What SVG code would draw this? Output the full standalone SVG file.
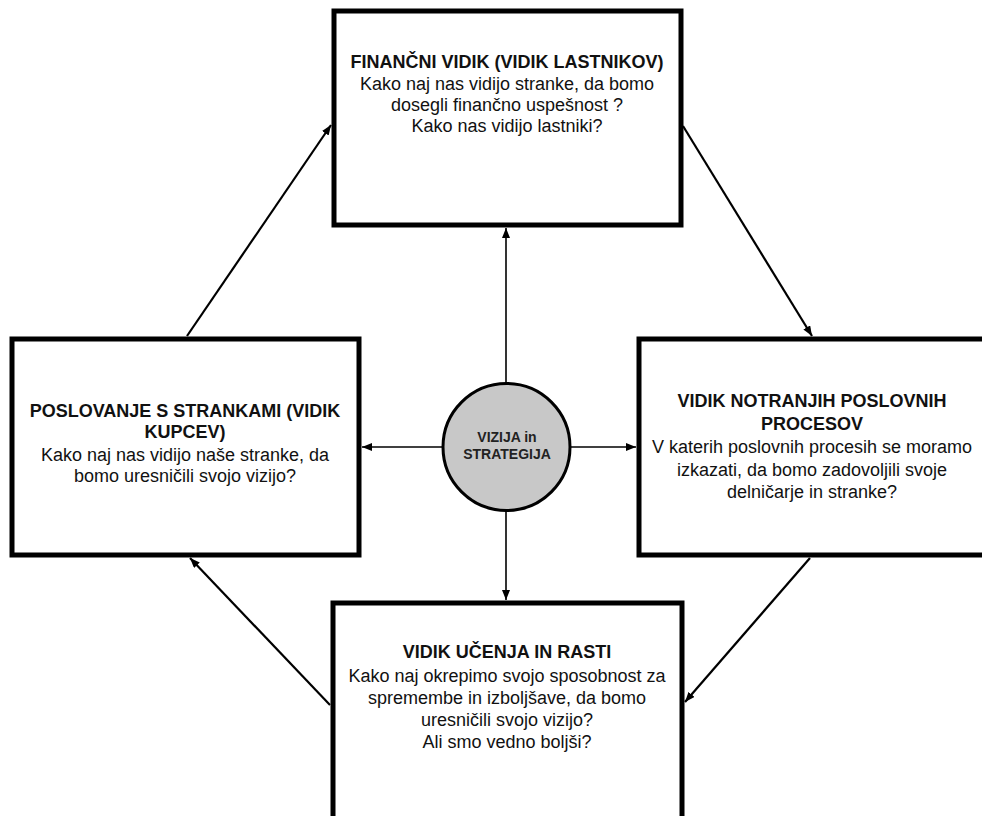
<svg xmlns="http://www.w3.org/2000/svg" width="982" height="816" viewBox="0 0 982 816">
  <style>
    .box { fill: #ffffff; stroke: #000000; stroke-width: 5; }
    .hub { fill: #c8c8c8; stroke: #000000; stroke-width: 3; }
    .t { font-family: "Liberation Sans", Arial, sans-serif; font-size: 18px; fill: #111111; text-anchor: middle; }
    .b { font-weight: bold; }
    .hubt { font-family: "Liberation Sans", Arial, sans-serif; font-size: 14px; font-weight: bold; fill: #222222; text-anchor: middle; }
    .link { fill: none; stroke: #000000; stroke-width: 1.6; }
    .diag { fill: none; stroke: #000000; stroke-width: 2.2; }
  </style>
  <defs>
    <marker id="arrow" viewBox="0 0 10 8" refX="10" refY="4" markerWidth="10" markerHeight="8" markerUnits="userSpaceOnUse" orient="auto">
      <path d="M0,0 L10,4 L0,8 Z" fill="#000000"/>
    </marker>
  </defs>

  <rect width="982" height="816" fill="#ffffff"/>

  <!-- connectors -->
  <g id="connectors">
    <line class="link" x1="506" y1="383" x2="506" y2="228" marker-end="url(#arrow)"/>
    <line class="link" x1="506" y1="511" x2="506" y2="600" marker-end="url(#arrow)"/>
    <line class="link" x1="443" y1="447" x2="362" y2="447" marker-end="url(#arrow)"/>
    <line class="link" x1="570" y1="447" x2="636" y2="447" marker-end="url(#arrow)"/>
    <line class="diag" x1="187" y1="336" x2="331" y2="125" marker-end="url(#arrow)"/>
    <line class="diag" x1="683" y1="126" x2="812" y2="336" marker-end="url(#arrow)"/>
    <line class="diag" x1="810" y1="558" x2="685" y2="702" marker-end="url(#arrow)"/>
    <line class="diag" x1="330" y1="705" x2="190" y2="558" marker-end="url(#arrow)"/>
  </g>

  <!-- financial perspective -->
  <g id="financni">
    <rect class="box" x="334" y="11" width="347" height="214"/>
    <text class="t b" x="507" y="68">FINANČNI VIDIK (VIDIK LASTNIKOV)</text>
    <text class="t" x="507" y="90">Kako naj nas vidijo stranke, da bomo</text>
    <text class="t" x="507" y="111">dosegli finančno uspešnost ?</text>
    <text class="t" x="507" y="132">Kako nas vidijo lastniki?</text>
  </g>

  <!-- customer perspective -->
  <g id="kupci">
    <rect class="box" x="12" y="339" width="347" height="216"/>
    <text class="t b" x="185" y="417">POSLOVANJE S STRANKAMI (VIDIK</text>
    <text class="t b" x="185" y="438">KUPCEV)</text>
    <text class="t" x="185" y="461">Kako naj nas vidijo naše stranke, da</text>
    <text class="t" x="185" y="482">bomo uresničili svojo vizijo?</text>
  </g>

  <!-- internal processes perspective -->
  <g id="procesi">
    <rect class="box" x="639" y="339" width="347" height="216"/>
    <text class="t b" x="812" y="407">VIDIK NOTRANJIH POSLOVNIH</text>
    <text class="t b" x="812" y="430">PROCESOV</text>
    <text class="t" x="812" y="453">V katerih poslovnih procesih se moramo</text>
    <text class="t" x="812" y="476">izkazati, da bomo zadovoljili svoje</text>
    <text class="t" x="812" y="498">delničarje in stranke?</text>
  </g>

  <!-- learning and growth perspective -->
  <g id="ucenje">
    <rect class="box" x="333" y="603" width="349" height="240"/>
    <text class="t b" x="507" y="658">VIDIK UČENJA IN RASTI</text>
    <text class="t" x="507" y="682">Kako naj okrepimo svojo sposobnost za</text>
    <text class="t" x="507" y="704">spremembe in izboljšave, da bomo</text>
    <text class="t" x="507" y="726">uresničili svojo vizijo?</text>
    <text class="t" x="507" y="748">Ali smo vedno boljši?</text>
  </g>

  <!-- vision and strategy hub -->
  <g id="vizija">
    <circle class="hub" cx="506.5" cy="447" r="63.5"/>
    <text class="hubt" x="507" y="442">VIZIJA in</text>
    <text class="hubt" x="507" y="459">STRATEGIJA</text>
  </g>
</svg>
